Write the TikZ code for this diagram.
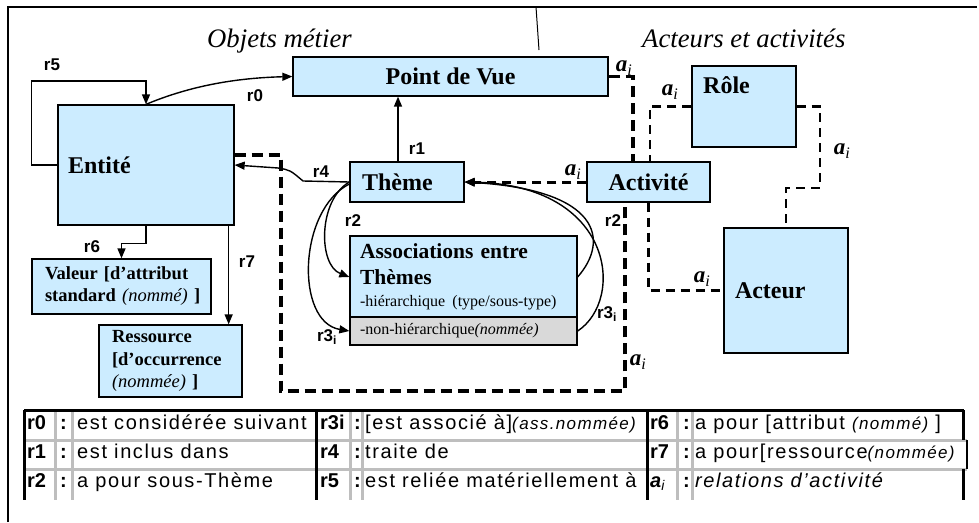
\documentclass[tikz,border=0pt]{standalone}
\usepackage{fontspec}
\setmainfont{Liberation Serif}
\setsansfont{Liberation Sans}
\usetikzlibrary{arrows.meta}

\definecolor{boxblue}{RGB}{204,236,255}
\definecolor{boxgray}{RGB}{217,217,217}
\definecolor{rulegray}{RGB}{190,190,190}

\newcommand{\ai}{\textbf{\textit{a}}\textsubscript{\textit{i}}}
\newcommand{\rlabel}[3]{\node[rtext] (#1) at (#2) {#3};}
\newcommand{\ailabel}[2]{\node[aitext] (#1) at (#2) {\ai};}
\newcommand{\legend}[7]{
  \node[keytext] (#1k) at (#2,#5) {#6};
  \node[keytext] (#1c) at (#3,#5) {:};
  \node[legtext] (#1t) at (#4,#5) {#7};}

\tikzset{
  box/.style={draw, line width=1.3pt, fill=boxblue, inner sep=0pt,
    font=\bfseries\fontsize{24}{28}\selectfont},
  title/.style={font=\bfseries\fontsize{24}{28}\selectfont, inner sep=0pt},
  heading/.style={font=\itshape\fontsize{26.7}{30}\selectfont, anchor=base west, inner sep=0pt},
  rtext/.style={font=\sffamily\bfseries\fontsize{17}{20}\selectfont, inner sep=0pt},
  aitext/.style={font=\fontsize{23}{26}\selectfont, inner sep=0pt},
  link/.style={line width=1.4pt, -{Triangle[length=10pt,width=8pt]}},
  actlink/.style={line width=3.6pt, dash pattern=on 11pt off 6pt},
  actlinkthin/.style={line width=2.6pt, dash pattern=on 9pt off 6pt},
  keytext/.style={font=\sffamily\bfseries\fontsize{20}{24}\selectfont, anchor=base west, inner sep=0pt},
  legtext/.style={font=\sffamily\fontsize{20}{24}\selectfont\addfontfeature{LetterSpace=8}, anchor=base west, inner sep=0pt},
  blackrule/.style={line width=3pt},
  grayrule/.style={line width=3pt, draw=rulegray}
}

\begin{document}
\begin{tikzpicture}[x=1pt,y=-1pt]
    \useasboundingbox (0,0) rectangle (979,522);
    % frame
    \draw[line width=1.3pt] (8,522) -- (8,7) -- (977,7);
    \draw[line width=1pt] (536,7) -- (539,50);
    \node[heading] (hobj) at (207,47) {Objets métier};
    \node[heading] (hact) at (642,47) {Acteurs et activités};

    % business objects
    \node[box, minimum width=315pt, minimum height=39pt] (pdv) at (450.5,76.5) {Point de Vue};
    \node[box, minimum width=176pt, minimum height=120pt, text width=156pt, align=left] (ent) at (146,165) {Entité};
    \node[box, minimum width=114pt, minimum height=40pt, text width=90pt, align=left] (theme) at (407,182) {Thème};
    \node[box, font=\bfseries\fontsize{18.5}{22}\selectfont, minimum width=179pt, minimum height=55pt,
      text width=153pt, align=left] (val) at (121.5,286.5) {Valeur [d’attribut\\ standard~\textit{\mdseries(nommé)}~]};
    \node[box, font=\bfseries\fontsize{18.5}{22.5}\selectfont, minimum width=143pt, minimum height=72pt,
      text width=117pt, align=left] (res) at (170.5,361) {Ressource\\ {[}d’occurrence\\ \textit{\mdseries(nommée)}~]};
    \node[box, font=\bfseries\fontsize{21.5}{26}\selectfont, minimum width=227pt, minimum height=82pt,
      text width=207pt, align=left] (assoc) at (463.5,277)
      {Associations entre\\ Thèmes\\[-4pt] {\mdseries\fontsize{16}{20}\selectfont -hiérarchique (type/sous-type)}};
    \node[box, fill=boxgray, font=\fontsize{16}{20}\selectfont, minimum width=227pt, minimum height=28pt,
      text width=207pt, align=left] (assoc2) at (463.5,331) {-non-hiérarchique\textit{(nommée)}};

    % actors and activities
    \node[box, minimum width=123pt, minimum height=40pt] (act) at (648.5,182) {Activité};
    \node[box, minimum width=104pt, minimum height=81pt] (role) at (744,106.5) {};
    \node[title, anchor=base west] (roletxt) at (703,93) {Rôle};
    \node[box, minimum width=124pt, minimum height=125pt, text width=102pt, align=left] (acteur) at (786,290.5) {Acteur};

    % relations r0 .. r7
    \draw[link] (ent.west) -- ++(-26,0) -- ++(0,-84) -| (ent.north);
    \draw[link] (ent.north) .. controls (190,86) and (235,78) .. (pdv.west);
    \draw[link] ([xshift=-9pt]theme.north) -- ([xshift=-9pt]theme.north |- pdv.south);
    \draw[link] (theme.west) -- (303,181) .. controls (290,170) .. (278,168) -- (ent.east);
    \draw[link] (theme.west) .. controls (318,200) and (318,265) .. (assoc.west);
    \draw[link] ([yshift=-2pt]theme.west) .. controls (298,210) and (295,322) .. (assoc2.west);
    \draw[link] (assoc.east) .. controls (610,240) and (600,190) .. (theme.east);
    \draw[link] (assoc2.east) .. controls (625,300) and (615,185) .. (theme.east);
    \draw[link] (ent.south) -- ++(0,18) -| (val.north);
    \draw[link] ([xshift=-6pt]ent.south east) -- ([xshift=-6pt]ent.south east |- res.north);

    % activity relations a_i
    \draw[actlink] ([yshift=10pt]ent.east) -| (281,391) -| ([xshift=-23.5pt]act.south);
    \draw[actlink] (pdv.east) -| ([xshift=-15.5pt]act.north);
    \draw[actlinkthin] (role.west) -| ([xshift=1.5pt]act.north);
    \draw[actlinkthin, line width=2.2pt] (role.east) -- (820,106.5) -- (820,188) -| (acteur.north);
    \draw[actlinkthin, line width=3pt, -{Triangle[length=10pt,width=8pt]}] (act.west) -- (theme.east);
    \draw[actlinkthin, line width=3pt] (act.south) |- (acteur.west);

    % labels
    \rlabel{lr5}{52,65}{r5}
    \rlabel{lr0}{255,96}{r0}
    \rlabel{lr1}{417,149}{r1}
    \rlabel{lr4}{321,172}{r4}
    \rlabel{lr2a}{353,221}{r2}
    \rlabel{lr2b}{613,221}{r2}
    \rlabel{lr3a}{327,337}{r3\textsubscript{i}}
    \rlabel{lr3b}{607,314}{r3\textsubscript{i}}
    \rlabel{lr6}{92,247}{r6}
    \rlabel{lr7}{247,262}{r7}
    \ailabel{la1}{624,68}
    \ailabel{la2}{670,92}
    \ailabel{la3}{842,151}
    \ailabel{la4}{573,172}
    \ailabel{la5}{702,279}
    \ailabel{la6}{638,362}

    % legend table
    \draw[grayrule] (24,440) -- (967,440);
    \draw[grayrule] (24,469) -- (967,469);
    \foreach \gx in {55,72,350,362,677,692}
      \draw[grayrule] (\gx,410) -- (\gx,500);
    \foreach \bx in {24,316,647}
      \draw[blackrule] (\bx,410) -- (\bx,500);
    \draw[blackrule] (24,410) -- (964,410);
    \draw[blackrule] (963,410) -- (963,440);
    \draw[line width=1.5pt] (967,440) -- (967,469);
    \draw[blackrule] (963,469) -- (963,500);

    % row 1
    \legend{t0}{27}{60}{77}{429}{r0}{est considérée suivant}
    \legend{t3}{320}{354}{365}{429}{r3i}{[est associé à]{\itshape\fontsize{17}{20}\selectfont(ass.nommée)}}
    \legend{t6}{650}{683}{695}{429}{r6}{a pour [attribut {\itshape\fontsize{17}{20}\selectfont(nommé)} ]}
    % row 2
    \legend{t1}{27}{60}{77}{458}{r1}{est inclus dans}
    \legend{t4}{320}{354}{365}{458}{r4}{traite de}
    \legend{t7}{650}{683}{695}{458}{r7}{a pour[ressource{\itshape\fontsize{17}{20}\selectfont(nommée)}}
    % row 3
    \legend{t2}{27}{60}{77}{487}{r2}{a pour sous-Thème}
    \legend{t5}{320}{354}{365}{487}{r5}{est reliée matériellement à}
    \legend{ta}{650}{683}{695}{487}{\textit{a}\textsubscript{\mdseries\itshape i}}{\textit{relations d'activité}}
\end{tikzpicture}
\end{document}
